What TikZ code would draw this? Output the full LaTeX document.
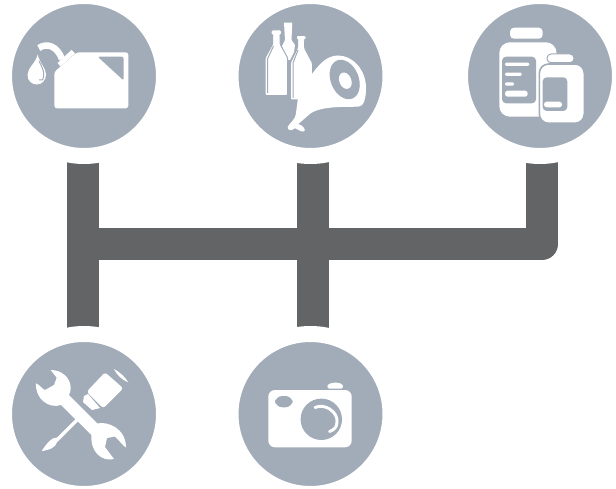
\documentclass[tikz,border=0pt]{standalone}
\usepackage{xcolor}
\usepackage{tikz}
\usetikzlibrary{backgrounds,positioning}
\definecolor{HubGrey}{HTML}{A2ACB8}
\definecolor{TrunkGrey}{HTML}{636466}
\tikzset{
  hubdisc/.style={
    circle,
    fill=HubGrey,
    draw=white,
    line width=12pt,
    minimum size=120pt,
    inner sep=0pt,
    outer sep=0pt
  },
  trunkbar/.style={draw=TrunkGrey, line width=24pt, line join=round},
  iconwhite/.style={fill=white, draw=none},
  iconcut/.style={fill=HubGrey, draw=none},
  iconline/.style={draw=white, line cap=round},
  cutline/.style={draw=HubGrey, line width=.75pt}
}
\begin{document}
\begin{tikzpicture}[x=.75pt,y=-.75pt]
  \useasboundingbox (0,0) rectangle (616,488);
  \node[hubdisc] at (84,76) (fuel) {};
  \node[hubdisc, right=49.875pt of fuel] (food) {};
  \node[hubdisc, right=52.125pt of food] (pills) {};
  \node[hubdisc, below=133.5pt of fuel] (tools) {};
  \node[hubdisc, below=133.5pt of food] (camera) {};
  \coordinate (tee) at (83,244);
  \begin{scope}[on background layer]
    \draw[trunkbar] ([xshift=-.75pt]fuel.south) -- ([xshift=-.75pt]tools.north);
    \draw[trunkbar] ([xshift=1.875pt]food.south) -- ([xshift=1.875pt]camera.north);
    \draw[trunkbar] ([xshift=1.5pt]pills.south) |- (tee);
  \end{scope}
  % can
  \fill[iconwhite, rounded corners=2pt] (77,52.3) -- (128.3,52.3) -- (128.3,108.3) -- (54.3,108.3) -- (54.3,72) -- cycle;
  \fill[iconcut, rounded corners=1.5pt] (97.7,56.7) -- (123.6,56.7) -- (123.6,80.5) -- cycle;
  \fill[iconwhite] (57.5,63) -- (71.5,50) -- (75,53.5) -- (60.5,66.5) -- cycle;
  \draw[iconline, line cap=butt, line width=4.8pt] (38.8,48) .. controls (47,42.5) and (57,46) .. (62,59);
  \fill[iconwhite] (37.7,54.7) .. controls (35,64) and (27.5,68) .. (27.5,75) .. controls (27.5,81) and (32,84.5) .. (37,84.5) .. controls (42,84.5) and (46,80) .. (46,74.5) .. controls (46,68) and (40,64) .. cycle;
  \draw[cutline] (39,61) .. controls (44,70) and (45,76) .. (42.5,80) -- (39,80);
  % bottles and ham
  \fill[iconwhite] (284,22.7) -- (292,22.7) -- (292,28) -- (291.5,40) -- (295,45) -- (294,52) -- (290,60) -- (288,60) -- (284,52) -- (282,46) -- (285,40) -- cycle;
  \filldraw[iconwhite, draw=HubGrey, line width=.75pt, rounded corners=1pt] (271,30) -- (281.7,30) -- (281.7,35) -- (280,35) -- (280,44) -- (287.7,58) -- (287.7,95.7) -- (265,95.7) -- (265,58) -- (272.7,44) -- (272.7,35) -- (271,35) -- cycle;
  \draw[cutline] (273.5,46) -- (267.7,58.5) -- (267.7,93);
  \filldraw[iconwhite, draw=HubGrey, line width=.75pt, rounded corners=1pt] (296.3,35.3) -- (306,35.3) -- (306,40) -- (304.5,40) -- (304.5,48) -- (312.5,63) -- (312.5,100) -- (290.3,100) -- (290.3,63) -- (297.5,48) -- (297.5,40) -- (296.3,40) -- cycle;
  \fill[iconwhite] (312,74) .. controls (318,66) and (326,55.5) .. (338,55.5) .. controls (353,55.5) and (366,70) .. (366,88) .. controls (366,98) and (364,106.7) .. (358.3,106.7) .. controls (340,107) and (316,106) .. (306.7,116.7) -- (298.3,124) .. controls (304,126) and (306,130) .. (304,131.5) .. controls (301,132.5) and (296,128) .. (295,128.3) .. controls (291,131) and (288,131) .. (287.7,127) .. controls (290,122) and (295,121) .. (296,113) -- (298,98) -- (305,76) -- cycle;
  \draw[cutline] (298,50) -- (293,63) -- (293,98);
  \path[iconcut] (344.7,79.5) ellipse [x radius=14, y radius=20.5, rotate=22];
  \path[iconwhite] (345.3,80.7) ellipse [x radius=6, y radius=8.5, rotate=22];
  % pills
  \fill[iconwhite, rounded corners=3pt] (510,27.7) rectangle (542.7,38.7);
  \fill[iconwhite, rounded corners=8pt] (499.3,116.7) -- (499.3,42.3) -- (556.5,42.3) -- (556.5,116.7) -- cycle;
  \fill[iconcut, rounded corners=3pt] (502,56.7) -- (536,56.7) -- (536,103.3) -- (502,103.3) -- cycle;
  \fill[iconwhite, rounded corners=1pt] (505,62.6) rectangle (529.3,66);
  \fill[iconwhite, rounded corners=1pt] (505,72.6) rectangle (521.7,76);
  \fill[iconwhite, rounded corners=1pt] (505,82.3) rectangle (514,85.7);
  \fill[iconwhite, rounded corners=2pt] (505,90.7) rectangle (527.7,96.7);
  \filldraw[iconwhite, draw=HubGrey, line width=1.2pt, rounded corners=7pt] (539.3,123.3) -- (539.3,64) -- (584.3,64) -- (584.3,123.3) -- cycle;
  \filldraw[iconwhite, draw=HubGrey, line width=.75pt, rounded corners=3pt] (547,54) rectangle (574,62.7);
  \fill[iconcut, rounded corners=3pt] (542.7,77.3) -- (567.3,77.3) -- (567.3,111) -- (542.7,111) -- cycle;
  \fill[iconwhite, rounded corners=2pt] (544,101.7) rectangle (562,107.3);
  % screwdriver and wrench
  \draw[iconline, line width=2.4pt, line cap=butt] (77,420) -- (57,440);
  \fill[iconwhite] (57.5,437.5) .. controls (52,437) and (47,443) .. (41.7,451) .. controls (50,450) and (56,447) .. (57,442) -- (60,439) -- cycle;
  \fill[iconwhite, rounded corners=2pt] (86.7,391.7) -- (105,372.3) -- (123.3,388.3) -- (103.3,408.3) -- cycle;
  \fill[iconwhite] (114,369) .. controls (120,372) and (126,378) .. (128.3,382.5) .. controls (122,380) and (116,374) .. cycle;
  \fill[iconwhite] (84,396) -- (88,394) -- (100,408) -- (92,410) -- (83,402) -- cycle;
  \fill[iconwhite] (50.7,370) .. controls (62,370) and (70.7,378) .. (70.7,388) .. controls (70.7,391) and (70,393) .. (69,395) -- (97.5,423.5) .. controls (107,421) and (126,428) .. (126,447.5) .. controls (123,446) and (119,440) .. (115,436.5) -- (107,438) -- (105,447) -- (114,459) .. controls (102,462) and (90,452) .. (91.5,435) -- (61,405) .. controls (49,409) and (35,399) .. (36,383.3) .. controls (40,385) and (42,389) .. (45,390) -- (54,385) -- (56.7,377.7) -- cycle;
  % camera
  \fill[iconwhite, rounded corners=2pt] (327,388.7) .. controls (328,382) and (342,381) .. (343.5,388.7) -- cycle;
  \fill[iconwhite, rounded corners=5pt] (268.3,390) rectangle (351.7,447.3);
  \fill[iconcut, rounded corners=5.5pt] (275,396) rectangle (292.7,407.3);
  \path[iconcut] (321.3,419.3) circle [radius=20.7];
  \draw[iconline, line width=2.2pt] (315,407.5) .. controls (325,403) and (338,412) .. (337,422) .. controls (337,427) and (334,430) .. (329.5,431.5);
\end{tikzpicture}
\end{document}
